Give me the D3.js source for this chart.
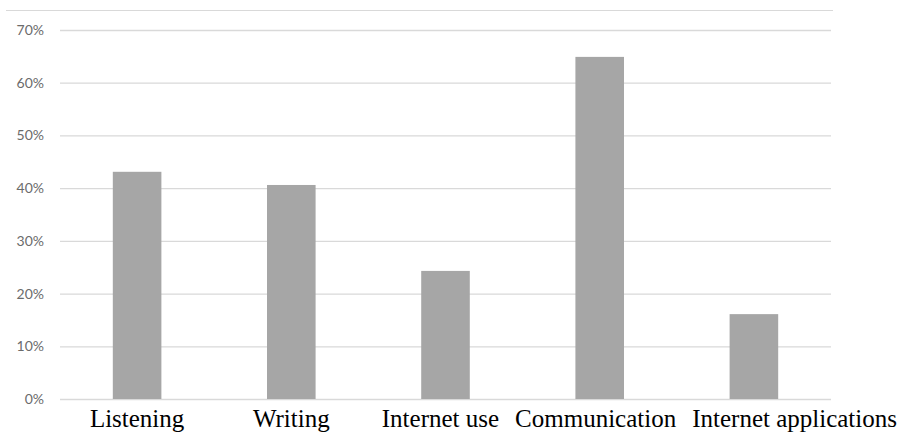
<!DOCTYPE html>
<html>
<head>
<meta charset="utf-8">
<script src="https://cdn.jsdelivr.net/npm/d3@7"></script>
<style>
  html, body { margin: 0; padding: 0; background: #ffffff; }
  svg { display: block; }
</style>
</head>
<body>
<script>
// Share of respondents per skill area
const categories = ["Listening", "Writing", "Internet use", "Communication", "Internet applications"];
const shares = [0.431, 0.406, 0.243, 0.649, 0.161];
const yTicks = [0, 0.1, 0.2, 0.3, 0.4, 0.5, 0.6, 0.7];

const W = 898, H = 432;
const plot = { left: 60, right: 831, top: 30, bottom: 399 };

const svg = d3.select("body").append("svg")
  .attr("width", W)
  .attr("height", H);

// Chart frame top edge
svg.append("line")
  .attr("x1", 6).attr("x2", 833)
  .attr("y1", 10.5).attr("y2", 10.5)
  .attr("stroke", "#d9d9d9")
  .attr("stroke-width", 1.2);

const x = d3.scaleBand()
  .domain(categories)
  .range([plot.left, plot.right])
  .paddingInner(0.685)
  .paddingOuter(0.3425);

const y = d3.scaleLinear()
  .domain([0, 0.7])
  .range([plot.bottom, plot.top]);

// Horizontal gridlines with percentage labels
const yAxis = d3.axisLeft(y)
  .tickValues(yTicks)
  .tickFormat(d3.format(".0%"))
  .tickSize(-(plot.right - plot.left))
  .tickPadding(16);

const gy = svg.append("g")
  .attr("transform", `translate(${plot.left},0)`)
  .call(yAxis);

gy.select(".domain").remove();
gy.selectAll(".tick line")
  .attr("stroke", "#d9d9d9")
  .attr("stroke-width", 1.3);
gy.selectAll(".tick text")
  .attr("fill", "#6b6b6b")
  .style("font-family", "Lato, 'Open Sans', sans-serif")
  .style("font-size", "14px");

// Bars
svg.append("g")
  .selectAll("rect")
  .data(categories)
  .join("rect")
  .attr("x", d => x(d))
  .attr("width", x.bandwidth())
  .attr("y", (d, i) => y(shares[i]))
  .attr("height", (d, i) => y(0) - y(shares[i]))
  .attr("fill", "#a6a6a6");

// Category labels: the last one ends at the page edge, the others are
// centred under their bars and pushed left whenever they would collide.
const labelGap = 16;
const labels = svg.append("g")
  .selectAll("text")
  .data(categories)
  .join("text")
  .attr("y", 427)
  .attr("fill", "#000000")
  .style("font-family", "'Liberation Serif', 'Times New Roman', serif")
  .style("font-size", "25px")
  .text(d => d);

const boxes = [];
labels.each(function (d) {
  const w = this.getComputedTextLength();
  const c = x(d) + x.bandwidth() / 2;
  boxes.push({ start: c - w / 2, width: w });
});
const last = boxes[boxes.length - 1];
last.start = W - 1 - last.width;
let limit = last.start - labelGap;
for (let i = boxes.length - 2; i >= 0; i--) {
  const b = boxes[i];
  if (b.start + b.width > limit) b.start = limit - b.width;
  limit = b.start - labelGap;
}
labels.attr("x", (d, i) => boxes[i].start);
</script>
</body>
</html>
